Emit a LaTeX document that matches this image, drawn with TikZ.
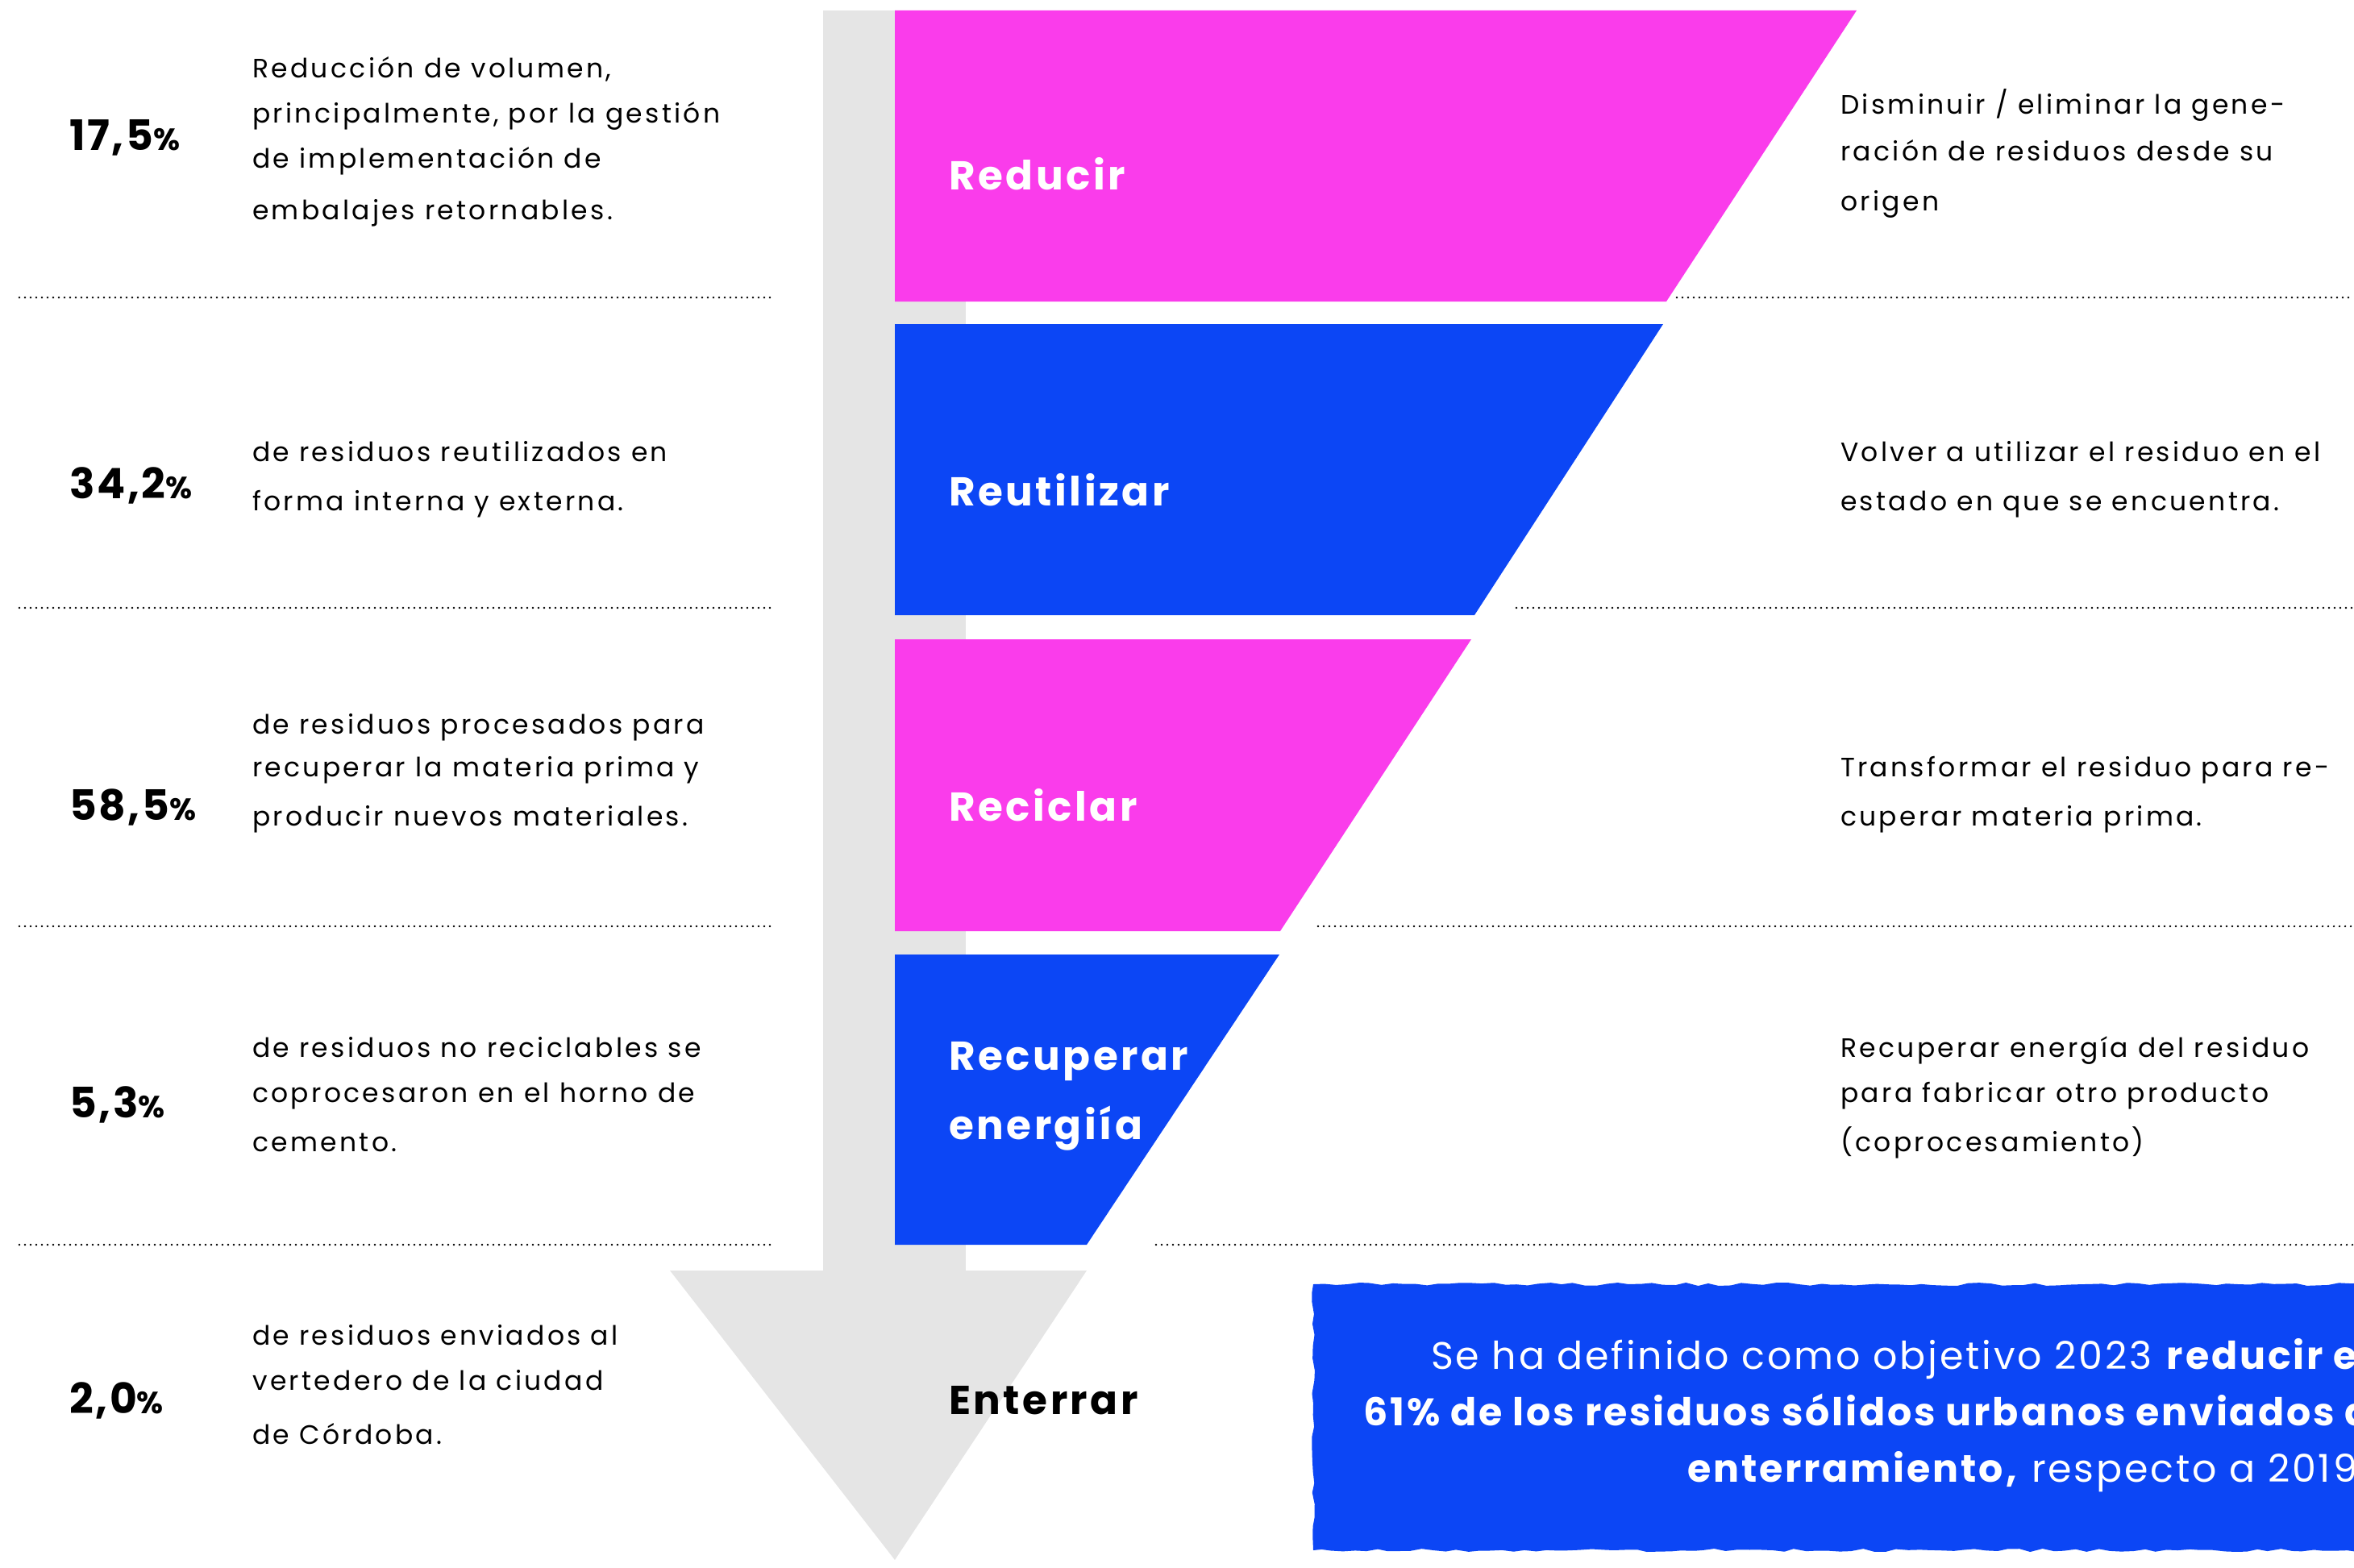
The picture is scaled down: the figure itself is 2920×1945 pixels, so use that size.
\documentclass[tikz,border=0pt]{standalone}
\usepackage{fontspec}
\setmainfont{Poppins}[LetterSpace=10]
\newfontfamily\lblfont{Poppins}[LetterSpace=7]
\newfontfamily\pctfont{Poppins}[LetterSpace=5]
\newfontfamily\boxfont{Poppins}[LetterSpace=6]
\usetikzlibrary{decorations.pathmorphing}
\definecolor{mag}{HTML}{FA3CEB}
\definecolor{blu}{HTML}{0C46F5}
\definecolor{arrowgray}{HTML}{E5E5E5}
\begin{document}
\begin{tikzpicture}[x=1pt,y=-1pt,
  desc/.style={anchor=base west, inner sep=0pt, font=\fontsize{33}{40}\selectfont},
  pct/.style={anchor=base west, inner sep=0pt, font=\fontsize{52}{60}\selectfont\pctfont\bfseries},
  lbl/.style={anchor=base west, inner sep=0pt, font=\fontsize{50}{60}\selectfont\lblfont\bfseries, text=white},
  boxtxt/.style={anchor=base east, inner sep=0pt, text=white, font=\fontsize{47.5}{56}\selectfont\boxfont},
  sepline/.style={line width=2.6pt, dash pattern=on 0pt off 7pt, line cap=round}]
\useasboundingbox (0,0) rectangle (2920,1945);
\begin{scope}
\clip (0,0) rectangle (2920,1945);
% arrow
\fill[arrowgray] (1021,13) rectangle (1198,1581);
\fill[arrowgray] (831,1576) -- (1348,1576) -- (1110,1935) -- cycle;
% bands
\fill[mag] (1110,13) -- (2303,13) -- (2067,374) -- (1110,374) -- cycle;
\fill[blu] (1110,402) -- (2063,402) -- (1829,763) -- (1110,763) -- cycle;
\fill[mag] (1110,793) -- (1825,793) -- (1588,1155) -- (1110,1155) -- cycle;
\fill[blu] (1110,1184) -- (1587,1184) -- (1348,1544) -- (1110,1544) -- cycle;
% separators
\coordinate (sL1a) at (24,369); \coordinate (sL1b) at (958,369);
\coordinate (sL2a) at (24,754); \coordinate (sL2b) at (958,754);
\coordinate (sL3a) at (24,1149); \coordinate (sL3b) at (958,1149);
\coordinate (sL4a) at (24,1544); \coordinate (sL4b) at (958,1544);
\coordinate (sR1a) at (2080,369); \coordinate (sR1b) at (2920,369);
\coordinate (sR2a) at (1881,754); \coordinate (sR2b) at (2920,754);
\coordinate (sR3a) at (1635,1149); \coordinate (sR3b) at (2920,1149);
\coordinate (sR4a) at (1434,1544); \coordinate (sR4b) at (2920,1544);
\foreach \s in {L1,L2,L3,L4,R1,R2,R3,R4}{\draw[sepline] (s\s a) -- (s\s b);}
% percents
\node[pct] (p1) at (86,187) {17,5{\fontsize{38}{40}\selectfont\%}};
\node[pct] (p2) at (86,618) {34,2{\fontsize{38}{40}\selectfont\%}};
\node[pct] (p3) at (86,1017) {58,5{\fontsize{38}{40}\selectfont\%}};
\node[pct] (p4) at (86,1386) {5,3{\fontsize{38}{40}\selectfont\%}};
\node[pct] (p5) at (86,1753) {2,0{\fontsize{38}{40}\selectfont\%}};
% left descriptions
\node[desc] (l1a) at (313,97) {Reducción de volumen,};
\node[desc] (l1b) at (313,153) {principalmente, por la gestión};
\node[desc] (l1c) at (313,208) {de implementación de};
\node[desc] (l1d) at (313,272) {embalajes retornables.};
\node[desc] (l2a) at (313,572) {de residuos reutilizados en};
\node[desc] (l2b) at (313,633) {forma interna y externa.};
\node[desc] (l3a) at (313,910) {de residuos procesados para};
\node[desc] (l3b) at (313,963) {recuperar la materia prima y};
\node[desc] (l3c) at (313,1024) {producir nuevos materiales.};
\node[desc] (l4a) at (313,1311) {de residuos no reciclables se};
\node[desc] (l4b) at (313,1367) {coprocesaron en el horno de};
\node[desc] (l4c) at (313,1428) {cemento.};
\node[desc] (l5a) at (313,1668) {de residuos enviados al};
\node[desc] (l5b) at (313,1724) {vertedero de la ciudad};
\node[desc] (l5c) at (313,1791) {de Córdoba.};
% right descriptions
\node[desc] (r1a) at (2283,142) {Disminuir / eliminar la gene-};
\node[desc] (r1b) at (2283,200) {ración de residuos desde su};
\node[desc] (r1c) at (2283,261) {origen};
\node[desc] (r2a) at (2283,572) {Volver a utilizar el residuo en el};
\node[desc] (r2b) at (2283,633) {estado en que se encuentra.};
\node[desc] (r3a) at (2283,963) {Transformar el residuo para re-};
\node[desc] (r3b) at (2283,1024) {cuperar materia prima.};
\node[desc] (r4a) at (2283,1311) {Recuperar energía del residuo};
\node[desc] (r4b) at (2283,1367) {para fabricar otro producto};
\node[desc] (r4c) at (2283,1428) {(coprocesamiento)};
% band labels
\node[lbl] (b1) at (1177,236) {Reducir};
\node[lbl] (b2) at (1177,627) {Reutilizar};
\node[lbl] (b3) at (1177,1018) {Reciclar};
\node[lbl] (b4a) at (1177,1327) {Recuperar};
\node[lbl] (b4b) at (1177,1413) {energiía};
\node[lbl, text=black] (b5) at (1177,1754) {Enterrar};
% objective box
\pgfmathsetseed{7}
\fill[blu, decorate, decoration={random steps, segment length=14pt, amplitude=2pt}]
  (1629,1593) -- (2940,1593) -- (2940,1923) -- (1629,1923) -- cycle;
\node[boxtxt] (o1) at (2944,1698) {Se ha definido como objetivo 2023 \textbf{reducir el}};
\node[boxtxt] (o2) at (2944,1768) {\textbf{61\% de los residuos sólidos urbanos enviados a}};
\node[boxtxt] (o3) at (2937,1838) {\textbf{enterramiento,} respecto a 2019.};
\end{scope}
\end{tikzpicture}
\end{document}
